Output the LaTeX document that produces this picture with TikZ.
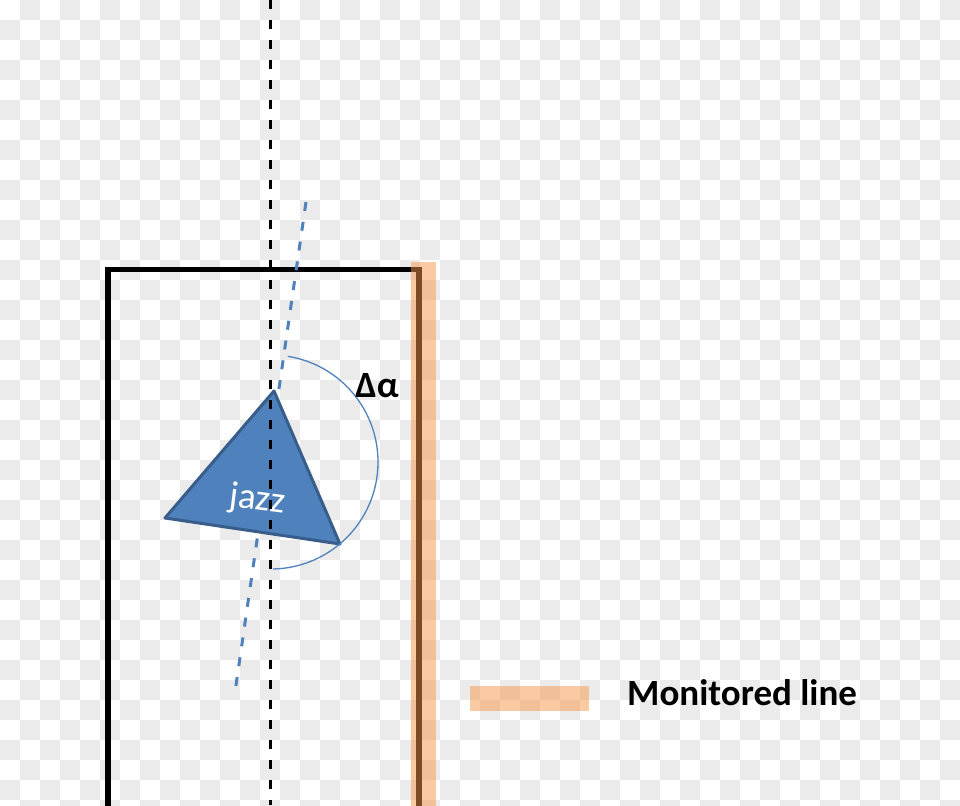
\documentclass[tikz,border=0pt]{standalone}
\usepackage{fontspec}
\setmainfont{Carlito}
\definecolor{checkgray}{HTML}{EBEBEB}
\definecolor{monorange}{HTML}{F79646}
\definecolor{jazzfill}{HTML}{4F81BD}
\definecolor{jazzdraw}{HTML}{385D8A}
\tikzset{
  framepath/.style={draw=black, line width=5.5pt, line join=miter},
  vertdash/.style={draw=black, line width=3pt, dash pattern=on 9pt off 11pt},
  axisdash/.style={draw=jazzfill, line width=3pt, dash pattern=on 9pt off 11pt},
  monitored/.style={fill=monorange, fill opacity=0.5, draw=none},
  jazzshape/.style={fill=jazzfill, draw=jazzdraw, line width=3pt, line join=round},
  anglearc/.style={draw=jazzfill, line width=1.3pt},
  bigtext/.style={font=\fontsize{37}{44}\selectfont, inner sep=0pt},
}
\begin{document}
\begin{tikzpicture}[x=1pt, y=-1pt]
\useasboundingbox (0,0) rectangle (960,805);
\clip (0,0) rectangle (960,805);
% checkerboard background
\fill[white] (0,0) rectangle (960,805);
\foreach \i in {0,...,40} {
  \foreach \j in {0,...,47} {
    \pgfmathtruncatemacro\cellsum{\i+\j}
    \ifodd\cellsum
      \fill[checkgray] (\j*20,\i*20) rectangle (\j*20+20,\i*20+20);
    \fi
  }
}
% coordinates
\coordinate (fbl) at (108,810);
\coordinate (ftl) at (108,269.5);
\coordinate (ftr) at (419,269.5);
\coordinate (fbr) at (419,810);
\coordinate (vtop) at (270.5,0);
\coordinate (vbot) at (270.5,805);
\coordinate (atop) at (306,202);
\coordinate (abot) at (235,692);
\coordinate (tapex) at (274,391);
\coordinate (tleft) at (165,518);
\coordinate (tright) at (340,544);
\coordinate (arcc) at (271,462);
% frame
\draw[framepath] (fbl) -- (ftl) -- (ftr) -- (fbr);
% blue axis
\draw[axisdash] (atop) -- (abot);
% triangle
\draw[jazzshape] (tapex) -- (tright) -- (tleft) -- cycle;
\node[bigtext, text=white, anchor=base, rotate=-7] (jazz) at (256,510) {jazz};
% vertical dashed line
\draw[vertdash] (vtop) -- (vbot);
% angle arc
\draw[anglearc] (arcc) ++(-81:107) arc[start angle=-81, end angle=89, radius=107];
\node[bigtext, font=\fontsize{37}{44}\selectfont\bfseries, anchor=base] (dalpha) at (377,397) {Δα};
% monitored line
\fill[monitored] (411,262) rectangle (436,810);
% legend
\fill[monitored] (470,686) rectangle (589,711);
\node[bigtext, font=\fontsize{37}{44}\selectfont\bfseries, anchor=base west] (legend) at (627,705) {Monitored line};
\end{tikzpicture}
\end{document}
